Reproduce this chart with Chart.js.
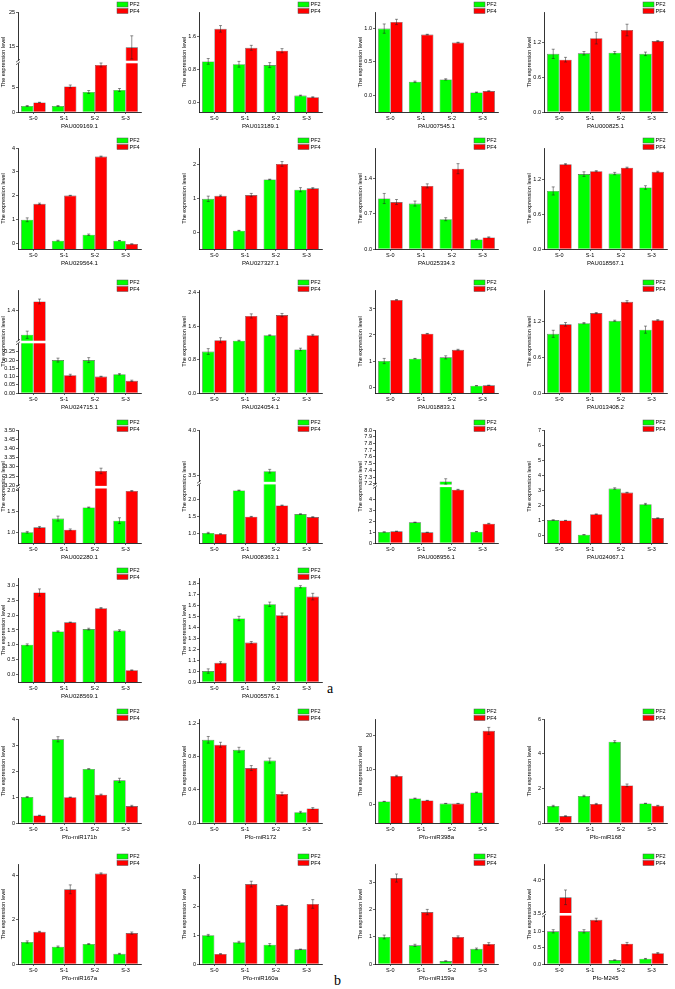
<!DOCTYPE html>
<html>
<head>
<meta charset="utf-8">
<script src="https://cdn.jsdelivr.net/npm/chart.js@4.4.1/dist/chart.umd.min.js"></script>
<style>
    body { margin: 0; background: #fff; width: 675px; height: 989px; position: relative; overflow: hidden; }
    canvas { position: absolute; }
    .lab { position: absolute; font-family: "Liberation Serif", serif; font-size: 14px; line-height: 1; }
</style>
</head>
<body>
<div class="lab" style="left:327px;top:682px">a</div>
<div class="lab" style="left:334px;top:974px">b</div>
<script>
// Data
const stages = ['S-0', 'S-1', 'S-2', 'S-3'];
const seriesNames = ['PF2', 'PF4'];
const genes = ['PAU009169.1', 'PAU013189.1', 'PAU007545.1', 'PAU000825.1',
    'PAU029564.1', 'PAU027327.1', 'PAU025334.3', 'PAU018567.1',
    'PAU024715.1', 'PAU024054.1', 'PAU018833.1', 'PAU013408.2',
    'PAU002280.1', 'PAU008363.1', 'PAU008956.1', 'PAU024067.1',
    'PAU028569.1', 'PAU005576.1',
    'Pfo-miR171b', 'Pfo-miR172', 'Pfo-miR398a', 'Pfo-miR168',
    'Pfo-miR167a', 'Pfo-miR160a', 'Pfo-miR159a', 'Pfo-M245'];

const pf2 = [
    [1.2, 1.2, 4.0, 4.4], [1.0, 0.93, 0.91, 0.17], [1.0, 0.20, 0.235, 0.04], [1.0, 1.01, 1.02, 1.0],
    [0.98, 0.1, 0.35, 0.1], [1.0, 0.06, 1.57, 1.27], [1.0, 0.9, 0.59, 0.19], [1.0, 1.29, 1.3, 1.06],
    [1.0, 0.20, 0.20, 0.114], [0.99, 1.25, 1.38, 1.04], [1.0, 1.09, 1.14, 0.05], [1.0, 1.18, 1.22, 1.07],
    [1.0, 1.33, 1.6, 1.28], [1.0, 2.28, 3.55, 1.57], [1.0, 1.88, 7.235, 1.03], [1.0, 0.02, 3.1, 2.06],
    [1.0, 1.45, 1.53, 1.48], [1.0, 1.48, 1.61, 1.77],
    [1.0, 3.22, 2.08, 1.64], [1.0, 0.88, 0.75, 0.13], [0.96, 1.83, 0.38, 3.56], [0.98, 1.56, 4.69, 1.13],
    [0.99, 0.78, 0.9, 0.46], [1.0, 0.76, 0.67, 0.51], [1.0, 0.69, 0.11, 0.56], [1.0, 1.0, 0.12, 0.16]
];
const pf4 = [
    [1.9, 5.1, 9.4, 14.6], [1.79, 1.33, 1.26, 0.13], [1.10, 0.91, 0.79, 0.06], [0.90, 1.27, 1.41, 1.22],
    [1.65, 2.0, 3.64, -0.04], [1.09, 1.11, 2.03, 1.31], [0.93, 1.25, 1.59, 0.23], [1.46, 1.34, 1.40, 1.33],
    [1.55, 0.108, 0.10, 0.074], [1.26, 1.84, 1.86, 1.38], [3.35, 2.05, 1.43, 0.065], [1.16, 1.35, 1.54, 1.23],
    [1.12, 1.06, 3.278, 2.0], [0.97, 1.49, 1.83, 1.48], [1.06, 0.97, 4.85, 1.76], [0.97, 1.39, 2.83, 1.13],
    [2.77, 1.76, 2.24, 0.14], [1.075, 1.26, 1.51, 1.68],
    [0.29, 0.99, 1.09, 0.65], [0.94, 0.66, 0.35, 0.175], [8.27, 1.25, 0.38, 21.2], [0.40, 1.10, 2.17, 1.0],
    [1.45, 3.36, 4.07, 1.39], [0.35, 2.78, 2.05, 2.09], [3.18, 1.92, 1.0, 0.74], [3.74, 1.35, 0.62, 0.33]
];
const pf2Err = [
    [0.1, 0.1, 0.3, 0.3], [0.07, 0.07, 0.06, 0.01], [0.07, 0.01, 0.01, 0.005], [0.08, 0.03, 0.02, 0.03],
    [0.08, 0.02, 0.03, 0.01], [0.08, 0.01, 0.01, 0.06], [0.1, 0.05, 0.03, 0.01], [0.07, 0.04, 0.02, 0.03],
    [0.06, 0.012, 0.015, 0.004], [0.07, 0.01, 0.01, 0.03], [0.1, 0.01, 0.06, 0.005], [0.06, 0.01, 0.01, 0.06],
    [0.02, 0.06, 0.01, 0.07], [0.02, 0.01, 0.02, 0.01], [0.02, 0.02, 0.04, 0.02], [0.02, 0.01, 0.05, 0.05],
    [0.03, 0.02, 0.03, 0.03], [0.02, 0.02, 0.02, 0.01],
    [0.02, 0.1, 0.01, 0.08], [0.04, 0.03, 0.03, 0.01], [0.05, 0.1, 0.05, 0.1], [0.04, 0.04, 0.06, 0.01],
    [0.05, 0.03, 0.02, 0.02], [0.03, 0.03, 0.04, 0.01], [0.07, 0.04, 0.01, 0.03], [0.05, 0.05, 0.01, 0.01]
];
const pf4Err = [
    [0.05, 0.3, 0.4, 3.4], [0.08, 0.06, 0.05, 0.01], [0.04, 0.005, 0.005, 0.005], [0.04, 0.1, 0.1, 0.01],
    [0.03, 0.01, 0.02, 0.005], [0.02, 0.05, 0.07, 0.02], [0.05, 0.04, 0.1, 0.01], [0.01, 0.01, 0.01, 0.01],
    [0.04, 0.006, 0.002, 0.004], [0.06, 0.05, 0.04, 0.02], [0.01, 0.01, 0.02, 0.005], [0.03, 0.01, 0.02, 0.01],
    [0.02, 0.02, 0.015, 0.01], [0.01, 0.01, 0.01, 0.01], [0.02, 0.01, 0.03, 0.03], [0.01, 0.02, 0.02, 0.02],
    [0.12, 0.01, 0.02, 0.01], [0.01, 0.01, 0.02, 0.03],
    [0.01, 0.01, 0.02, 0.03], [0.03, 0.03, 0.02, 0.01], [0.2, 0.05, 0.05, 1.0], [0.02, 0.03, 0.08, 0.02],
    [0.02, 0.2, 0.03, 0.05], [0.01, 0.1, 0.01, 0.15], [0.15, 0.1, 0.04, 0.05], [0.11, 0.05, 0.04, 0.02]
];

const yMin = [0, -0.23, -0.255, 0, -0.25, -0.48, 0, 0, 0, 0, -0.23, 0, 0.74, 0.7, 0, -0.53, -0.26, 0.9,
    0, 0, -5.2, 0, 0, 0, 0, 0];
const yMax = [25, 2.2, 1.25, 1.72, 4, 2.5, 2.0, 1.74, 1.74, 2.46, 3.73, 1.74, 3.5, 4.0, 8.0, 7, 3.26, 1.85,
    4, 1.25, 24.6, 6, 4.5, 3.48, 3.7, 4.24];

// broken axes: values lo..hi are cut out, frac = share of the axis below the cut
const yBreaks = {
    0: { lo: 10, hi: 10.3, frac: 0.5 },
    8: { lo: 0.31, hi: 0.88, frac: 0.495 },
    12: { lo: 2.09, hi: 3.19, frac: 0.494 },
    13: { lo: 2.5, hi: 3.42, frac: 0.53 },
    14: { lo: 5.2, hi: 7.17, frac: 0.506 },
    25: { lo: 1.52, hi: 3.485, frac: 0.497 }
};

const yTicks = [
    [0, 5, 15, 25], [0, 0.8, 1.6], [0, 0.5, 1.0], [0, 0.6, 1.2],
    [0, 1, 2, 3, 4], [0, 1, 2], [0, 0.7, 1.4], [0, 0.6, 1.2],
    [0, 0.05, 0.1, 0.15, 0.2, 0.25, 1.4], [0, 0.8, 1.6, 2.4], [0, 1, 2, 3], [0, 0.6, 1.2],
    [1.0, 1.5, 2.0, 3.2, 3.25, 3.3, 3.35, 3.4, 3.45, 3.5], [1.0, 1.5, 2.0, 3.5, 4.0],
    [0, 1, 2, 3, 4, 7.2, 7.3, 7.4, 7.5, 7.6, 7.7, 7.8, 7.9, 8.0], [0, 1, 2, 3, 4, 5, 6, 7],
    [0, 0.5, 1.0, 1.5, 2.0, 2.5, 3.0], [0.9, 1.0, 1.1, 1.2, 1.3, 1.4, 1.5, 1.6, 1.7, 1.8],
    [0, 1, 2, 3, 4], [0, 0.4, 0.8, 1.2], [0, 10, 20], [0, 2, 4, 6],
    [0, 2, 4], [0, 1, 2, 3], [0, 1, 2, 3], [0, 0.5, 1.0, 3.5, 4.0]
];
const yTickLabels = [
    ['0', '5', '15', '25'], ['0.0', '0.8', '1.6'], ['0.0', '0.5', '1.0'], ['0.0', '0.6', '1.2'],
    ['0', '1', '2', '3', '4'], ['0', '1', '2'], ['0.0', '0.7', '1.4'], ['0.0', '0.6', '1.2'],
    ['0.00', '0.05', '0.10', '0.15', '0.20', '0.25', '1.4'], ['0.0', '0.8', '1.6', '2.4'], ['0', '1', '2', '3'], ['0.0', '0.6', '1.2'],
    ['1.0', '1.5', '2.0', '3.20', '3.25', '3.30', '3.35', '3.40', '3.45', '3.50'], ['1.0', '1.5', '2.0', '3.5', '4.0'],
    ['0', '1', '2', '3', '4', '7.2', '7.3', '7.4', '7.5', '7.6', '7.7', '7.8', '7.9', '8.0'], ['0', '1', '2', '3', '4', '5', '6', '7'],
    ['0.0', '0.5', '1.0', '1.5', '2.0', '2.5', '3.0'], ['0.9', '1.0', '1.1', '1.2', '1.3', '1.4', '1.5', '1.6', '1.7', '1.8'],
    ['0', '1', '2', '3', '4'], ['0.0', '0.4', '0.8', '1.2'], ['0', '10', '20'], ['0', '2', '4', '6'],
    ['0', '2', '4'], ['0', '1', '2', '3'], ['0', '1', '2', '3'], ['0.0', '0.5', '1.0', '3.5', '4.0']
];

// Layout of the grid of panels
const rowTop = [0, 135, 275, 410, 558, 703, 848];
const plotTop = [12, 148, 290, 430, 578, 719, 864];
const plotBottom = [112, 249, 393, 543, 682, 823, 964];
const colLeft = [-1, 180, 356, 525];

Chart.defaults.font.family = '"Liberation Sans", Arial, sans-serif';
Chart.defaults.font.size = 5.5;
Chart.defaults.color = '#000';

// linear scale that can skip a range of values (broken axis)
class BrokenScale extends Chart.LinearScale {
    getPixelForValue(v) {
        const b = this.brk;
        if (!b) return super.getPixelForValue(v);
        const h = this.bottom - this.top;
        const cut = this.bottom - b.frac * h;
        if (v <= b.lo) return this.bottom - (v - this.min) / (b.lo - this.min) * b.frac * h;
        if (v < b.hi) return cut;
        return cut - (v - b.hi) / (this.max - b.hi) * (1 - b.frac) * h;
    }
}
BrokenScale.id = 'broken';
BrokenScale.defaults = Chart.LinearScale.defaults;
Chart.register(BrokenScale);

// two stacked legend entries at the top right of each panel
const legendBox = {
    id: 'legendBox',
    afterDraw(chart) {
        const { ctx, chartArea: a } = chart;
        const x = a.right - 24;
        const y0 = Math.max(1, a.top - 10);
        ctx.save();
        ctx.font = '5.5px "Liberation Sans", Arial, sans-serif';
        ctx.textBaseline = 'middle';
        chart.data.datasets.forEach((ds, d) => {
            const y = y0 + d * 6.5;
            ctx.fillStyle = ds.backgroundColor;
            ctx.fillRect(x, y, 11, 5);
            ctx.strokeStyle = '#555';
            ctx.lineWidth = 0.5;
            ctx.strokeRect(x, y, 11, 5);
            ctx.fillStyle = '#000';
            ctx.fillText(ds.label, x + 12.5, y + 2.6);
        });
        ctx.restore();
    }
};
Chart.register(legendBox);

function breakMark(b) {
    return {
        id: 'breakMark',
        afterDatasetsDraw(chart) {
            if (!b) return;
            const { ctx, chartArea: a } = chart;
            const y = a.bottom - b.frac * (a.bottom - a.top);
            ctx.save();
            ctx.fillStyle = '#fff';
            ctx.fillRect(a.left - 1.5, y - 1.3, a.right - a.left + 1.5, 2.6);
            ctx.strokeStyle = '#000';
            ctx.lineWidth = 0.6;
            ctx.beginPath();
            [-1.3, 1.3].forEach(d => {
                ctx.moveTo(a.left - 2, y + d + 1.5);
                ctx.lineTo(a.left + 2, y + d - 1.5);
            });
            ctx.stroke();
            ctx.restore();
        }
    };
}

function errorBars(errs) {
    return {
        id: 'errorBars',
        afterDatasetsDraw(chart) {
            const ctx = chart.ctx, ys = chart.scales.y;
            ctx.save();
            ctx.strokeStyle = '#222';
            ctx.lineWidth = 0.5;
            chart.data.datasets.forEach((ds, d) => {
                chart.getDatasetMeta(d).data.forEach((bar, k) => {
                    const v = ds.data[k], e = errs[d][k];
                    const top = ys.getPixelForValue(v + e), bot = ys.getPixelForValue(v - e);
                    ctx.beginPath();
                    ctx.moveTo(bar.x, top); ctx.lineTo(bar.x, bot);
                    ctx.moveTo(bar.x - 1.5, top); ctx.lineTo(bar.x + 1.5, top);
                    ctx.moveTo(bar.x - 1.5, bot); ctx.lineTo(bar.x + 1.5, bot);
                    ctx.stroke();
                });
            });
            ctx.restore();
        }
    };
}

genes.forEach((gene, i) => {
    const row = i < 16 ? Math.floor(i / 4) : i < 18 ? 4 : 5 + Math.floor((i - 18) / 4);
    const col = i < 16 ? i % 4 : i < 18 ? i - 16 : (i - 18) % 4;

    const canvas = document.createElement('canvas');
    canvas.width = 150;
    canvas.height = plotBottom[row] - rowTop[row] + 19;
    canvas.style.left = colLeft[col] + 'px';
    canvas.style.top = rowTop[row] + 'px';
    document.body.appendChild(canvas);

    const brk = yBreaks[i] || null;
    new Chart(canvas.getContext('2d'), {
        type: 'bar',
        data: {
            labels: stages,
            datasets: [
                { label: seriesNames[0], data: pf2[i], backgroundColor: '#00ff00' },
                { label: seriesNames[1], data: pf4[i], backgroundColor: '#ff0000' }
            ]
        },
        options: {
            responsive: false,
            animation: false,
            events: [],
            layout: { padding: { top: plotTop[row] - rowTop[row], right: 8, left: 0, bottom: 0 } },
            datasets: {
                bar: {
                    base: yMin[i],
                    borderColor: '#555',
                    borderWidth: 0.6,
                    barPercentage: 1,
                    categoryPercentage: 0.8
                }
            },
            plugins: {
                legend: { display: false },
                tooltip: { enabled: false }
            },
            scales: {
                x: {
                    grid: { display: true, drawOnChartArea: false, offset: false, tickLength: 2, color: '#000', lineWidth: 0.6 },
                    border: { color: '#000', width: 0.8 },
                    ticks: { padding: 1, font: { size: 5.5 } },
                    title: { display: true, text: gene, font: { size: 6 }, padding: { top: 0, bottom: 1 } },
                    afterFit: s => { s.height = 19; s.paddingLeft = 0; s.paddingRight = 0; }
                },
                y: {
                    type: 'broken',
                    min: yMin[i],
                    max: yMax[i],
                    bounds: 'data',
                    grid: { display: true, drawOnChartArea: false, tickLength: 2, color: '#000', lineWidth: 0.6 },
                    border: { color: '#000', width: 0.8 },
                    ticks: { padding: 1, autoSkip: false, callback: (v, k) => yTickLabels[i][k] },
                    title: { display: true, text: 'The expression level', font: { size: 5.5 }, padding: { top: 1.5, bottom: 0 } },
                    beforeUpdate: s => { s.brk = brk; },
                    afterBuildTicks: s => { s.ticks = yTicks[i].map(v => ({ value: v })); },
                    afterFit: s => { s.width = 19; s.paddingTop = 0; s.paddingBottom = 0; }
                }
            }
        },
        plugins: [breakMark(brk), errorBars([pf2Err[i], pf4Err[i]])]
    });
});
</script>
</body>
</html>
